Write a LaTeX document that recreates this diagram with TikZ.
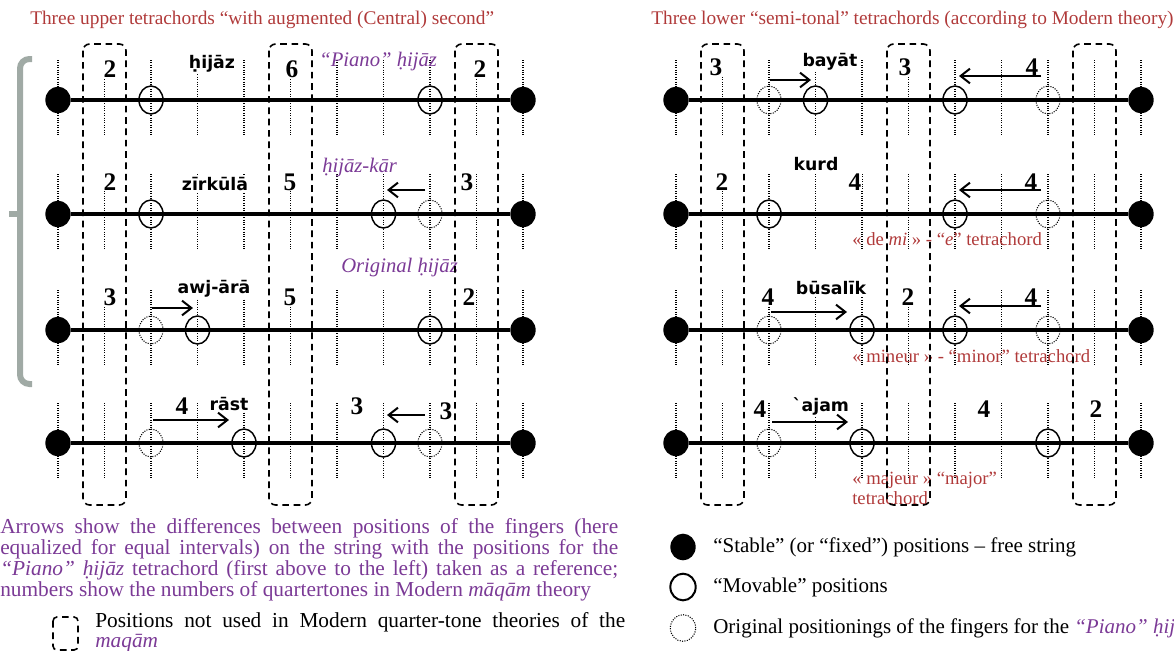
\documentclass[tikz,border=0pt]{standalone}
\usepackage{fontspec}
\setmainfont{Liberation Serif}
\newfontfamily\namefont{DejaVu Sans}
\usepackage{tikz}
\usetikzlibrary{arrows.meta,shapes.geometric}
\usepackage{xcolor}
\definecolor{titlered}{HTML}{B03A3A}
\definecolor{notepurple}{HTML}{7B3A96}
\definecolor{bracketgray}{HTML}{A0AAA5}
\tikzset{
  fret/.style={densely dotted, line width=0.8pt},
  stringline/.style={line width=3.4pt},
  stablepos/.style={ellipse, fill=black, minimum width=19pt, minimum height=20pt, inner sep=0pt},
  movpos/.style={ellipse, draw=black, line width=1.1pt, minimum width=18pt, minimum height=21pt, inner sep=0pt},
  origpos/.style={ellipse, draw=black, densely dotted, line width=0.8pt, minimum width=18pt, minimum height=21pt, inner sep=0pt},
  unusedbox/.style={draw=black, dash pattern=on 5pt off 3.5pt, line width=1.2pt, rounded corners=5pt},
  fingermove/.style={-{Straight Barb[length=7pt,width=11pt]}, line width=1.5pt},
  qnum/.style={font=\fontsize{19}{19}\selectfont\bfseries, fill=white, inner sep=0.6pt},
  tname/.style={font=\namefont\fontsize{13}{13}\selectfont\bfseries, fill=white, inner sep=0.6pt},
  pname/.style={font=\fontsize{15.5}{15.5}\selectfont\itshape, text=notepurple, inner sep=0pt, anchor=west},
  rname/.style={font=\fontsize{14}{14.5}\selectfont, text=titlered, inner sep=0pt, anchor=west, align=left},
  paneltitle/.style={font=\fontsize{14.5}{14.5}\selectfont, text=titlered, inner sep=0pt, anchor=west},
  keytext/.style={font=\fontsize{15.75}{14}\selectfont, inner sep=0pt},
  notetext/.style={font=\fontsize{16}{14.25}\selectfont, inner sep=0pt, anchor=north west, align=justify}
}

\begin{document}
\begin{tikzpicture}[x=0.75pt, y=-0.75pt]
  \useasboundingbox (0,0) rectangle (1174,650);

  % frets
  \foreach \y in {100,214,330,443}{
    \foreach \k in {0,...,10}{
      \draw[fret] (58+46.5*\k,\y-40) -- (58+46.5*\k,\y+36);
      \draw[fret] (676+46.5*\k,\y-40) -- (676+46.5*\k,\y+36);
    }
  }

  % titles
  \node[paneltitle] (lefttitle) at (30,20) {Three upper tetrachords “with augmented (Central) second”};
  \node[paneltitle] (righttitle) at (651,20) {Three lower “semi-tonal” tetrachords (according to Modern theory)};

  % left labels
  \node[qnum] (hijazN1) at (110,69) {2};
  \node[qnum] (hijazN2) at (292,69) {6};
  \node[qnum] (hijazN3) at (480,69) {2};
  \node[tname] (hijazName) at (212,64) {ḥijāz};
  \node[pname] (hijazPiano) at (319,62) {“Piano” ḥijāz};

  \node[qnum] (zirkulaN1) at (110,182) {2};
  \node[qnum] (zirkulaN2) at (290,182) {5};
  \node[qnum] (zirkulaN3) at (467,182) {3};
  \node[tname] (zirkulaName) at (215,184) {zīrkūlā};
  \node[pname] (hijazkar) at (322,168) {ḥijāz-kār};

  \node[qnum] (awjN1) at (110,297) {3};
  \node[qnum] (awjN2) at (290,297) {5};
  \node[qnum] (awjN3) at (469,297) {2};
  \node[tname] (awjName) at (214,289) {awj-ārā};
  \node[pname] (hijazOrig) at (341,268) {Original ḥijāz};

  \node[qnum] (rastN1) at (182,406) {4};
  \node[qnum] (rastN2) at (357,406) {3};
  \node[qnum] (rastN3) at (446,411) {3};
  \node[tname] (rastName) at (229,404) {rāst};

  % right labels
  \node[qnum] (bayatN1) at (716,67) {3};
  \node[qnum] (bayatN2) at (905,67) {3};
  \node[qnum] (bayatN3) at (1032,67) {4};
  \node[tname] (bayatName) at (830,62) {bayāt};

  \node[qnum] (kurdN1) at (722,182) {2};
  \node[qnum] (kurdN2) at (855,182) {4};
  \node[qnum] (kurdN3) at (1031,182) {4};
  \node[tname] (kurdName) at (816,164) {kurd};
  \node[rname] (kurdNote) at (852,239) {« de \textit{mi} » - “\textit{e}” tetrachord};

  \node[qnum] (busalikN1) at (768,297) {4};
  \node[qnum] (busalikN2) at (908,297) {2};
  \node[qnum] (busalikN3) at (1031,297) {4};
  \node[tname] (busalikName) at (831,288) {būsalīk};
  \node[rname] (busalikNote) at (852,356) {« mineur » - “minor” tetrachord};

  \node[qnum] (ajamN1) at (760,409) {4};
  \node[qnum] (ajamN2) at (984,409) {4};
  \node[qnum] (ajamN3) at (1096,409) {2};
  \node[tname] (ajamName) at (821,406) {\char"60 ajam};
  \node[rname, anchor=north west] (ajamNote) at (852,472) {« majeur » “major”\\tetrachord};

  % unused positions
  \foreach \cx in {104.5,290.5,476.5,722.5,908.5,1094.5}
    \draw[unusedbox] (\cx-21.5,44) rectangle (\cx+21.5,505);

  % bracket
  \draw[bracketgray, line width=4.5pt, rounded corners=7pt] (32,59) -- (20,59) -- (20,384) -- (32,384);
  \draw[bracketgray, line width=4.5pt] (20,214) -- (9,214);

  % hijaz
  \node[stablepos] (hijazL) at (58,100) {};
  \node[stablepos] (hijazR) at (523,100) {};
  \draw[stringline] (hijazL) -- (hijazR);
  \node[movpos] (hijazM2) at (151,100) {};
  \node[movpos] (hijazM8) at (430,100) {};

  % zirkula
  \node[stablepos] (zirkulaL) at (58,214) {};
  \node[stablepos] (zirkulaR) at (523,214) {};
  \draw[stringline] (zirkulaL) -- (zirkulaR);
  \node[movpos] (zirkulaM2) at (151,214) {};
  \node[movpos] (zirkulaM7) at (383.5,214) {};
  \node[origpos] (zirkulaO8) at (430,214) {};
  \coordinate (zirkulaS) at (425,190);
  \coordinate (zirkulaE) at (387,190);
  \draw[fingermove] (zirkulaS) -- (zirkulaE);

  % awj-ara
  \node[stablepos] (awjL) at (58,330) {};
  \node[stablepos] (awjR) at (523,330) {};
  \draw[stringline] (awjL) -- (awjR);
  \node[origpos] (awjO2) at (151,330) {};
  \node[movpos] (awjM3) at (197.5,330) {};
  \node[movpos] (awjM8) at (430,330) {};
  \coordinate (awjS) at (152,308);
  \coordinate (awjE) at (193,308);
  \draw[fingermove] (awjS) -- (awjE);

  % rast
  \node[stablepos] (rastL) at (58,443) {};
  \node[stablepos] (rastR) at (523,443) {};
  \draw[stringline] (rastL) -- (rastR);
  \node[origpos] (rastO2) at (151,443) {};
  \node[movpos] (rastM4) at (244,443) {};
  \node[movpos] (rastM7) at (383.5,443) {};
  \node[origpos] (rastO8) at (430,443) {};
  \coordinate (rastS1) at (153,420);
  \coordinate (rastE1) at (229,420);
  \draw[fingermove] (rastS1) -- (rastE1);
  \coordinate (rastS2) at (425,415);
  \coordinate (rastE2) at (387,415);
  \draw[fingermove] (rastS2) -- (rastE2);

  % bayat
  \node[stablepos] (bayatL) at (676,100) {};
  \node[stablepos] (bayatR) at (1141,100) {};
  \draw[stringline] (bayatL) -- (bayatR);
  \node[origpos] (bayatO2) at (769,100) {};
  \node[movpos] (bayatM3) at (815.5,100) {};
  \node[movpos] (bayatM6) at (955,100) {};
  \node[origpos] (bayatO8) at (1048,100) {};
  \coordinate (bayatS1) at (770,80);
  \coordinate (bayatE1) at (811,80);
  \draw[fingermove] (bayatS1) -- (bayatE1);
  \coordinate (bayatS2) at (1041,76);
  \coordinate (bayatE2) at (959,76);
  \draw[fingermove] (bayatS2) -- (bayatE2);

  % kurd
  \node[stablepos] (kurdL) at (676,214) {};
  \node[stablepos] (kurdR) at (1141,214) {};
  \draw[stringline] (kurdL) -- (kurdR);
  \node[movpos] (kurdM2) at (769,214) {};
  \node[movpos] (kurdM6) at (955,214) {};
  \node[origpos] (kurdO8) at (1048,214) {};
  \coordinate (kurdS) at (1041,190);
  \coordinate (kurdE) at (959,190);
  \draw[fingermove] (kurdS) -- (kurdE);

  % busalik
  \node[stablepos] (busalikL) at (676,330) {};
  \node[stablepos] (busalikR) at (1141,330) {};
  \draw[stringline] (busalikL) -- (busalikR);
  \node[origpos] (busalikO2) at (769,330) {};
  \node[movpos] (busalikM4) at (862,330) {};
  \node[movpos] (busalikM6) at (955,330) {};
  \node[origpos] (busalikO8) at (1048,330) {};
  \coordinate (busalikS1) at (771,312);
  \coordinate (busalikE1) at (847,312);
  \draw[fingermove] (busalikS1) -- (busalikE1);
  \coordinate (busalikS2) at (1041,306);
  \coordinate (busalikE2) at (959,306);
  \draw[fingermove] (busalikS2) -- (busalikE2);

  % ajam
  \node[stablepos] (ajamL) at (676,443) {};
  \node[stablepos] (ajamR) at (1141,443) {};
  \draw[stringline] (ajamL) -- (ajamR);
  \node[origpos] (ajamO2) at (769,443) {};
  \node[movpos] (ajamM4) at (862,443) {};
  \node[movpos] (ajamM8) at (1048,443) {};
  \coordinate (ajamS) at (772,422);
  \coordinate (ajamE) at (848,422);
  \draw[fingermove] (ajamS) -- (ajamE);

  % notes and key
  \node[notetext, text=notepurple, text width=463.5pt] (arrownote) at (0,518) {Arrows show the differences between positions of the fingers (here\linebreak equalized for equal intervals) on the string with the positions for the\linebreak \textit{“Piano” ḥijāz} tetrachord (first above to the left) taken as a reference;\linebreak numbers show the numbers of quartertones in Modern \textit{māqām} theory};
  \draw[unusedbox, rounded corners=3pt] (53,617) rectangle (78,650);
  \node[notetext, text width=397.5pt, font=\fontsize{16}{15}\selectfont] (unusedkey) at (95,612) {Positions not used in Modern quarter-tone theories of the\linebreak \textcolor{notepurple}{\textit{maqām}}};

  \node[stablepos, minimum width=19pt, minimum height=20pt] (keystable) at (683,547) {};
  \node[keytext, anchor=west] (keystabletext) at (713,547) {“Stable” (or “fixed”) positions – free string};
  \node[movpos, line width=1.5pt, minimum width=19pt, minimum height=20pt] (keymov) at (683,587) {};
  \node[keytext, anchor=west] (keymovtext) at (713,587) {“Movable” positions};
  \node[origpos, minimum width=19pt, minimum height=20pt] (keyorig) at (683,628) {};
  \node[keytext, anchor=west] (keyorigtext) at (713,628) {Original positionings of the fingers for the \textcolor{notepurple}{\textit{“Piano” ḥijāz}}};
\end{tikzpicture}
\end{document}
